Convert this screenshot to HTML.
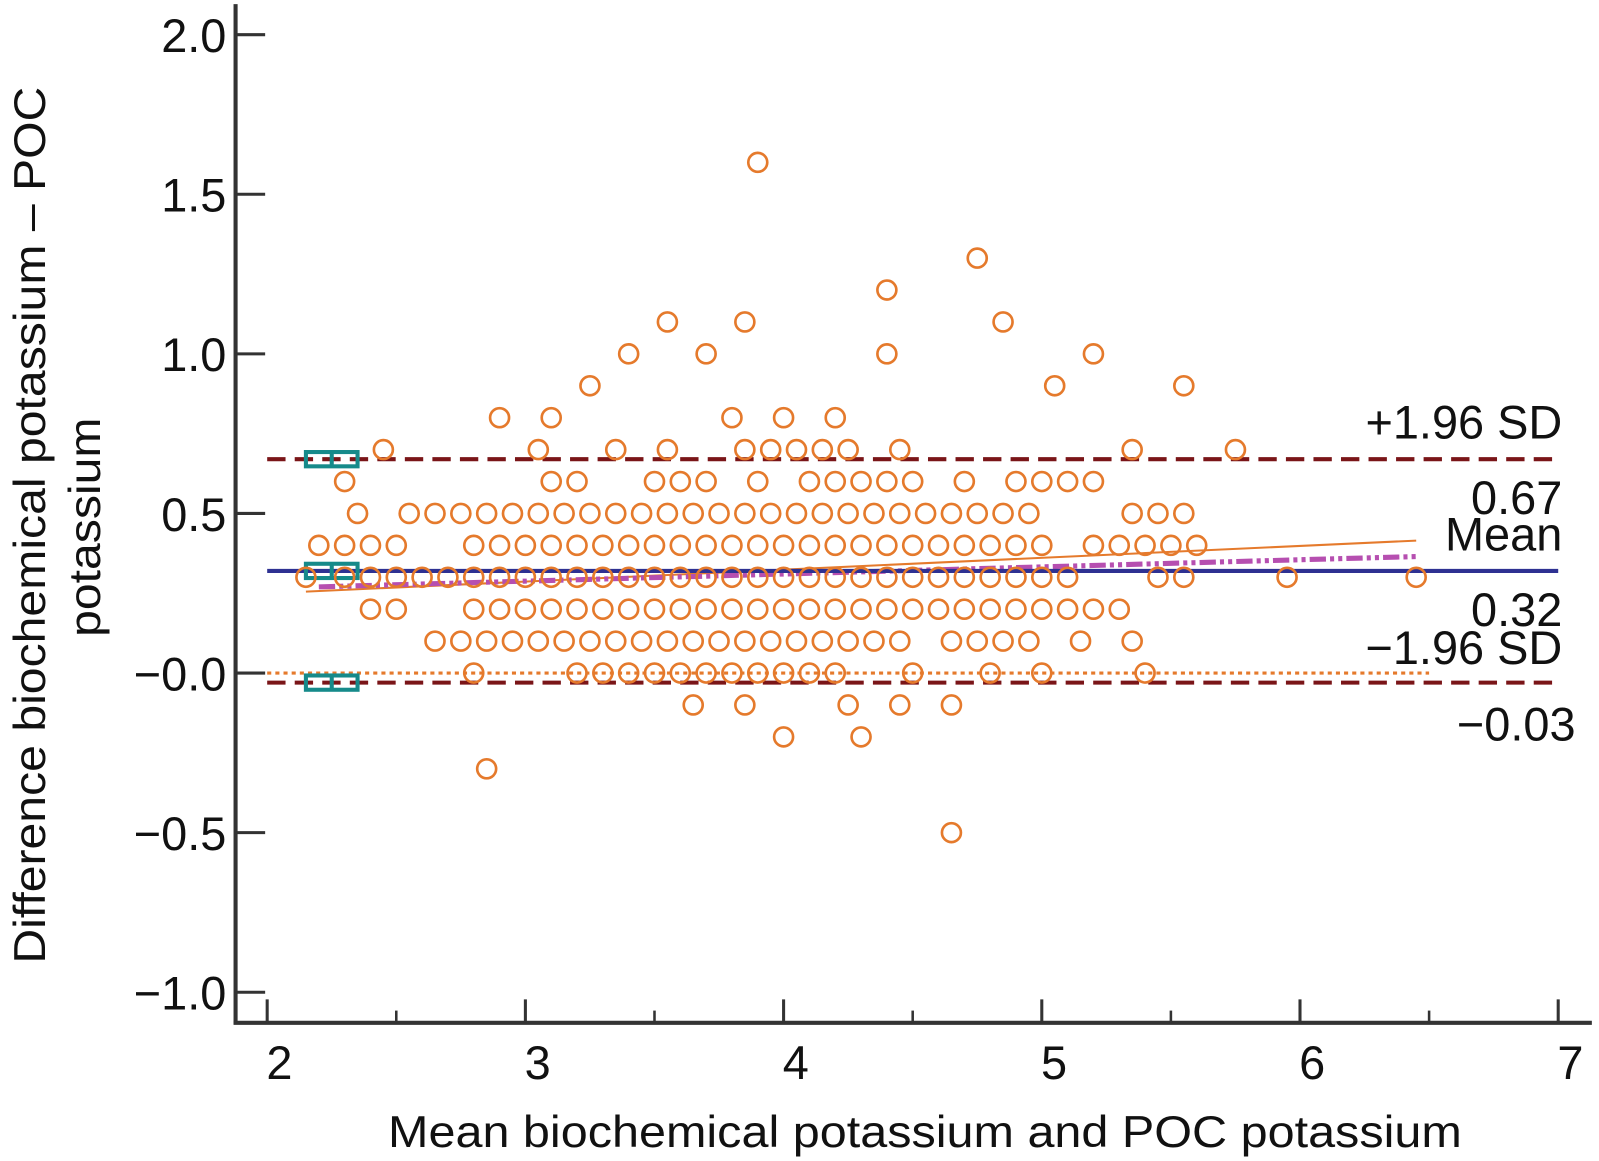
<!DOCTYPE html>
<html><head><meta charset="utf-8"><style>
html,body{margin:0;padding:0;background:#fff}
svg{display:block;font-family:"Liberation Sans",Arial,sans-serif}
</style></head><body>
<svg id="chart" xmlns="http://www.w3.org/2000/svg" width="1599" height="1161" viewBox="0 0 1568 1138.5">
<g id="axes"></g>
<g id="lines"></g>
<g id="points"></g>
<g id="labels"></g>
</svg>
<script>
const yTicks = [2.0, 1.5, 1.0, 0.5, 0.0, -0.5, -1.0];
const yTickLabels = ["2.0", "1.5", "1.0", "0.5", "\u22120.0", "\u22120.5", "\u22121.0"];
const xTicks = [2, 3, 4, 5, 6, 7];
const xMinorTicks = [2.5, 3.5, 4.5, 5.5, 6.5];
const upperLoA = 0.67;
const meanDiff = 0.32;
const lowerLoA = -0.03;
const regressionLine = [[2.15, 0.255], [6.45, 0.415]];
const fitLine = [[2.2, 0.27], [6.45, 0.365]];
const ciBarX = [2.15, 2.35];
function seq(a, b) { const r = []; for (let v = a; v <= b + 1e-9; v += 0.1) r.push(+v.toFixed(2)); return r; }
const row16 = [3.9];
const row13 = [4.75];
const row12 = [4.4];
const row11 = [3.55, 3.85, 4.85];
const row10 = [3.4, 3.7, 4.4, 5.2];
const row09 = [3.25, 5.05, 5.55];
const row08 = [2.9, 3.1, 3.8, 4.0, 4.2];
const row07 = [2.45, 3.05, 3.35, 3.55, 3.85, 3.95, 4.05, 4.15, 4.25, 4.45, 5.35, 5.75];
const row06 = [2.3, 3.1, 3.2, 3.5, 3.6, 3.7, 3.9, 4.1, 4.2, 4.3, 4.4, 4.5, 4.7, 4.9, 5.0, 5.1, 5.2];
const row05 = [2.35].concat(seq(2.55, 4.95), [5.35, 5.45, 5.55]);
const row04 = [2.2, 2.3, 2.4, 2.5].concat(seq(2.8, 5.0), [5.2, 5.3, 5.4, 5.5, 5.6]);
const row03 = [2.15].concat(seq(2.3, 5.1), [5.45, 5.55, 5.95, 6.45]);
const row02 = [2.4, 2.5].concat(seq(2.8, 5.3));
const row01 = seq(2.65, 4.45).concat(seq(4.65, 4.95), [5.15, 5.35]);
const row00 = [2.8].concat(seq(3.2, 4.2), [4.5, 4.8, 5.0, 5.4]);
const rowM01 = [3.65, 3.85, 4.25, 4.45, 4.65];
const rowM02 = [4.0, 4.3];
const rowM03 = [2.85];
const rowM05 = [4.65];
const rows = [[1.6,row16],[1.3,row13],[1.2,row12],[1.1,row11],[1.0,row10],[0.9,row09],[0.8,row08],[0.7,row07],[0.6,row06],[0.5,row05],[0.4,row04],[0.3,row03],[0.2,row02],[0.1,row01],[0.0,row00],[-0.1,rowM01],[-0.2,rowM02],[-0.3,rowM03],[-0.5,rowM05]];

const X0 = 262, XU = 253.2, Y0 = 660, YU = 313;
const sx = v => X0 + (v - 2) * XU;
const sy = v => Y0 - v * YU;
const NS = "http://www.w3.org/2000/svg";
function mk(parent, tag, attrs, text) {
  const e = document.createElementNS(NS, tag);
  for (const k in attrs) e.setAttribute(k, attrs[k]);
  if (text !== undefined) e.textContent = text;
  parent.appendChild(e); return e;
}
const axes = document.getElementById('axes');
const lines = document.getElementById('lines');
const pts = document.getElementById('points');
const labels = document.getElementById('labels');

let e = mk(axes, 'line', {x1:231, y1:4, x2:231, y2:1004, stroke:'#333', 'stroke-width':4});
 
e = mk(axes, 'line', {x1:229, y1:1003, x2:1561, y2:1003, stroke:'#333', 'stroke-width':4});
 
yTicks.forEach((v, i) => {
  let t = mk(axes, 'line', {x1:231, y1:sy(v), x2:260, y2:sy(v), stroke:'#333', 'stroke-width':3});
   
  let l = mk(axes, 'text', {x:222, y:sy(v)+17, 'text-anchor':'end', 'font-size':46, fill:'#111'}, yTickLabels[i]);
   
});
xTicks.forEach(v => {
  let t = mk(axes, 'line', {x1:sx(v), y1:1003, x2:sx(v), y2:980, stroke:'#333', 'stroke-width':3});
   
  let l = mk(axes, 'text', {x:sx(v)+12, y:1058, 'text-anchor':'middle', 'font-size':46, fill:'#111'}, String(v));
   
});
xMinorTicks.forEach(v => {
  let t = mk(axes, 'line', {x1:sx(v), y1:1003, x2:sx(v), y2:991, stroke:'#333', 'stroke-width':2.5});
   
});

rows.forEach(([y, xs]) => xs.forEach(x => {
  let c = mk(pts, 'circle', {cx:sx(x), cy:sy(y), r:9.3, fill:'none', stroke:'#e57a2c', 'stroke-width':2.6});
   
}));

e = mk(lines, 'line', {x1:sx(2.0), y1:sy(0), x2:sx(6.5), y2:sy(0), stroke:'#e57a2c', 'stroke-width':3, 'stroke-dasharray':'4 4'});
 
e = mk(lines, 'line', {x1:sx(2.0), y1:sy(upperLoA), x2:sx(7), y2:sy(upperLoA), stroke:'#7a1518', 'stroke-width':4, 'stroke-dasharray':'18 9'});
 
e = mk(lines, 'line', {x1:sx(2.0), y1:sy(lowerLoA), x2:sx(7), y2:sy(lowerLoA), stroke:'#7a1518', 'stroke-width':4, 'stroke-dasharray':'18 9'});
 
e = mk(lines, 'line', {x1:sx(regressionLine[0][0]), y1:sy(regressionLine[0][1]), x2:sx(regressionLine[1][0]), y2:sy(regressionLine[1][1]), stroke:'#e57a2c', 'stroke-width':2});
 
e = mk(lines, 'line', {x1:sx(fitLine[0][0]), y1:sy(fitLine[0][1]), x2:sx(fitLine[1][0]), y2:sy(fitLine[1][1]), stroke:'#b64fb0', 'stroke-width':5, 'stroke-dasharray':'16 4 4 4 4 4'});
 
e = mk(lines, 'line', {x1:sx(2.0), y1:sy(meanDiff), x2:sx(7), y2:sy(meanDiff), stroke:'#2e3192', 'stroke-width':4});
 
[upperLoA, meanDiff, lowerLoA].forEach(v => {
  let r = mk(lines, 'rect', {x:sx(ciBarX[0]), y:sy(v)-7, width:sx(ciBarX[1])-sx(ciBarX[0]), height:14, fill:'none', stroke:'#168a8a', 'stroke-width':4});
   
  let m = mk(lines, 'line', {x1:(sx(ciBarX[0])+sx(ciBarX[1]))/2, y1:sy(v)-7, x2:(sx(ciBarX[0])+sx(ciBarX[1]))/2, y2:sy(v)+7, stroke:'#168a8a', 'stroke-width':4});
   
});

const rl = [["+1.96 SD", 430], ["0.67", 504], ["Mean", 540], ["0.32", 614], ["\u22121.96 SD", 651], ["\u22120.03", 726]];
rl.forEach(([t, y]) => {
  let l = mk(labels, 'text', {x: t.indexOf('0.03') >= 0 ? 1545 : 1532, y:y, 'text-anchor':'end', 'font-size':46, fill:'#111'}, t);
   
});
e = mk(labels, 'text', {x:907, y:1125, 'text-anchor':'middle', 'font-size':44, fill:'#111', textLength:1053, lengthAdjust:'spacingAndGlyphs'}, 'Mean biochemical potassium and POC potassium');
 
e = mk(labels, 'text', {x:0, y:0, 'text-anchor':'middle', 'font-size':44, fill:'#111', transform:'translate(44,515) rotate(-90)', textLength:860, lengthAdjust:'spacingAndGlyphs'}, 'Difference biochemical potassium \u2013 POC');
 
e = mk(labels, 'text', {x:0, y:0, 'text-anchor':'middle', 'font-size':44, fill:'#111', transform:'translate(98,517) rotate(-90)', textLength:215, lengthAdjust:'spacingAndGlyphs'}, 'potassium');
 
</script>
</body></html>
